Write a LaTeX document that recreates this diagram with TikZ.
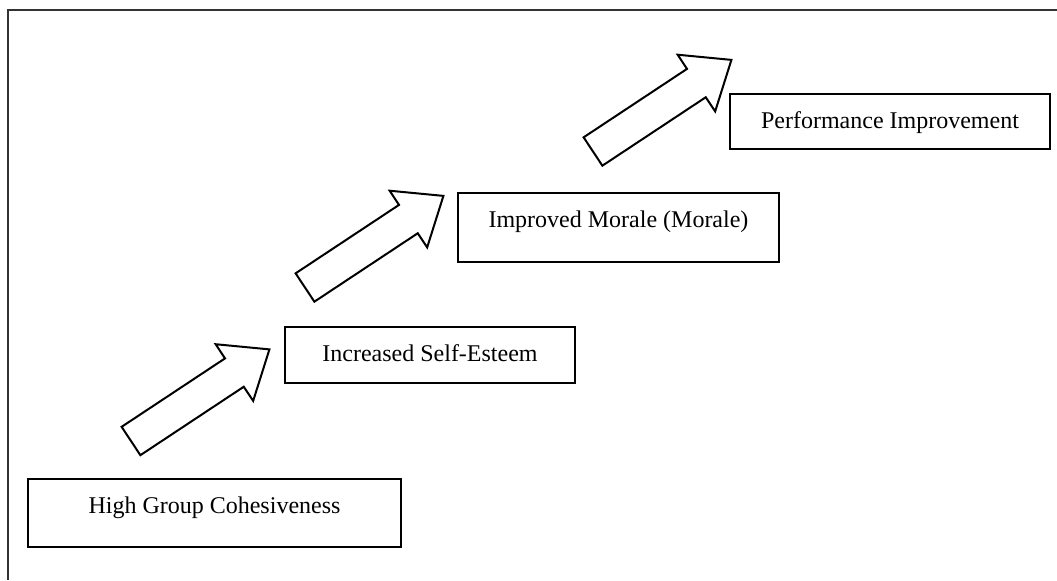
\documentclass[tikz,border=0pt]{standalone}
\usepackage{fontspec}
\setmainfont{Liberation Serif}
\usepackage{tikz}

\tikzset{
  stage/.style={draw, line width=1pt, inner sep=0pt, text height=17pt,
    font=\fontsize{12}{14}\selectfont, anchor=north west},
  bigarrow/.style={draw, line width=1pt, fill=white, line join=miter},
}
% one block arrow, tail centre at #1
\newcommand{\stageArrow}[1]{%
  \draw[bigarrow, shift={#1}, rotate=33.5]
    (0,-17)--(124,-17)--(124,-34)--(166,0)--(124,34)--(124,17)--(0,17)--cycle;}

\begin{document}
\begin{tikzpicture}[x=0.5pt,y=-0.5pt]
\useasboundingbox (0,0) rectangle (1057,580);
\draw[line width=1pt, black!80] (8,580)--(8,10)--(1057,10);
\node[stage, minimum width=186.5pt, text depth=17pt] (coh) at (27,478) {High Group Cohesiveness};
\node[stage, minimum width=145pt, text depth=11pt] (est) at (284,326) {Increased Self-Esteem};
\node[stage, minimum width=160.5pt, text depth=17.5pt] (mor) at (457,192) {Improved Morale (Morale)};
\node[stage, minimum width=160pt, text depth=10.5pt] (perf) at (729,93) {Performance Improvement};
\stageArrow{(131,441)}
\stageArrow{(305,287.5)}
\stageArrow{(593,151.5)}
%\draw (coh) -- (est);
\end{tikzpicture}
\end{document}
